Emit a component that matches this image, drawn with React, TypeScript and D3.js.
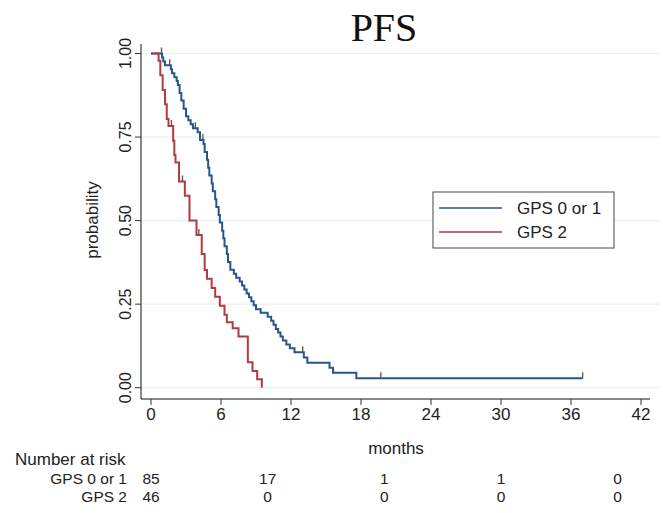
import { useEffect, useRef } from 'react'
import * as d3 from 'd3'

// ── data ──
const monthTicks = [0, 6, 12, 18, 24, 30, 36, 42]
const probTicks = [0, 0.25, 0.5, 0.75, 1]
const riskTimes = [0, 10, 20, 30, 40]
const risk01 = [85, 17, 1, 1, 0]
const risk2 = [46, 0, 0, 0, 0]

const gps01Time = [0, 0.95, 1.05, 1.2, 1.7, 1.8, 2.0, 2.2, 2.3, 2.45, 2.6, 2.8, 3.0, 3.2, 3.4, 3.6, 4.0, 4.2, 4.5, 4.6, 4.8, 4.9, 5.0, 5.2, 5.3, 5.5, 5.6, 5.8, 5.9, 6.1, 6.2, 6.3, 6.5, 6.6, 6.8, 7.1, 7.3, 7.6, 7.8, 8.0, 8.2, 8.4, 8.6, 8.8, 9.0, 9.4, 10.0, 10.3, 10.5, 10.7, 10.9, 11.1, 11.3, 11.6, 11.9, 12.3, 13.1, 13.4, 15.3, 15.6, 17.6, 37]
const gps01Surv = [1, 0.988, 0.976, 0.965, 0.953, 0.941, 0.929, 0.918, 0.906, 0.882, 0.859, 0.835, 0.812, 0.8, 0.788, 0.776, 0.764, 0.741, 0.729, 0.705, 0.682, 0.658, 0.635, 0.611, 0.588, 0.564, 0.541, 0.517, 0.494, 0.47, 0.447, 0.423, 0.4, 0.376, 0.353, 0.341, 0.329, 0.318, 0.306, 0.294, 0.282, 0.271, 0.259, 0.247, 0.235, 0.224, 0.212, 0.2, 0.188, 0.176, 0.165, 0.153, 0.141, 0.129, 0.118, 0.106, 0.09, 0.075, 0.06, 0.045, 0.028, 0.028]
const gps01Censor = [0.9, 1.6, 3.8, 4.45, 13.0, 19.7, 37]

const gps2Time = [0, 0.65, 0.8, 1.0, 1.2, 1.35, 1.5, 1.9, 2.0, 2.1, 2.4, 2.9, 3.3, 3.9, 4.35, 4.6, 4.8, 5.2, 5.5, 5.9, 6.3, 6.5, 7.0, 7.5, 8.3, 8.7, 9.1, 9.5]
const gps2Surv = [1, 0.978, 0.935, 0.891, 0.848, 0.804, 0.783, 0.739, 0.696, 0.674, 0.617, 0.574, 0.5, 0.457, 0.4, 0.352, 0.326, 0.298, 0.272, 0.245, 0.218, 0.196, 0.178, 0.153, 0.076, 0.05, 0.025, 0]
const gps2Censor = [1.75, 2.7, 4.1]

const BLUE = '#27568a'
const RED = '#b23a40'
const FONT = '"Liberation Sans", Arial, sans-serif'

export default function App() {
  const svgRef = useRef<SVGSVGElement>(null)

  useEffect(() => {
    const svg = d3.select(svgRef.current)
    svg.selectAll('*').remove()
    const W = 663, H = 513
    svg.attr('width', W).attr('height', H)

    const x = d3.scaleLinear().domain([0, 42]).range([151, 641])
    const y = d3.scaleLinear().domain([0, 1]).range([387.7, 53.5])
    const left = 141, bottom = 399, top = 44, right = 660

    svg.append('rect').attr('width', W).attr('height', H).attr('fill', '#fff')

    // title
    svg.append('text').attr('x', 384).attr('y', 41).attr('text-anchor', 'middle')
      .attr('font-family', '"Liberation Serif", "Times New Roman", serif').attr('font-size', 40).attr('fill', '#111').text('PFS')

    // grid
    svg.append('g').selectAll('line').data(probTicks).join('line')
      .attr('x1', left).attr('x2', right).attr('y1', d => y(d)).attr('y2', d => y(d))
      .attr('stroke', '#e6eff1').attr('stroke-width', 1.2)

    // axes
    svg.append('line').attr('x1', left).attr('x2', left).attr('y1', top).attr('y2', bottom).attr('stroke', '#111')
    svg.append('line').attr('x1', left).attr('x2', 650).attr('y1', bottom).attr('y2', bottom).attr('stroke', '#111')

    const yt = svg.append('g').selectAll('g').data(probTicks).join('g')
    yt.append('line').attr('x1', left - 6).attr('x2', left).attr('y1', d => y(d)).attr('y2', d => y(d)).attr('stroke', '#333')
    yt.append('text').attr('transform', d => `translate(131,${y(d)}) rotate(-90)`).attr('text-anchor', 'middle')
      .attr('font-family', FONT).attr('font-size', 16).attr('fill', '#222').text(d => d3.format('.2f')(d))

    const xt = svg.append('g').selectAll('g').data(monthTicks).join('g')
    xt.append('line').attr('x1', d => x(d)).attr('x2', d => x(d)).attr('y1', bottom).attr('y2', bottom + 6).attr('stroke', '#333')
    xt.append('text').attr('x', d => x(d)).attr('y', 420).attr('text-anchor', 'middle')
      .attr('font-family', FONT).attr('font-size', 17).attr('fill', '#222').text(d => d)

    svg.append('text').attr('transform', 'translate(98,220) rotate(-90)').attr('text-anchor', 'middle')
      .attr('font-family', FONT).attr('font-size', 17).attr('fill', '#222').text('probability')
    svg.append('text').attr('x', 396).attr('y', 454).attr('text-anchor', 'middle')
      .attr('font-family', FONT).attr('font-size', 17).attr('fill', '#222').text('months')

    // curves
    const line = d3.line<[number, number]>().x(d => x(d[0])).y(d => y(d[1])).curve(d3.curveStepAfter)
    const series = [
      { t: gps01Time, s: gps01Surv, c: gps01Censor, col: BLUE },
      { t: gps2Time, s: gps2Surv, c: gps2Censor, col: RED },
    ]
    for (const sr of series) {
      const pts = sr.t.map((t, i) => [t, sr.s[i]] as [number, number])
      svg.append('path').attr('d', line(pts)).attr('fill', 'none').attr('stroke', sr.col).attr('stroke-width', 2)
      const bis = d3.bisector((d: number) => d).right
      svg.append('g').selectAll('line').data(sr.c).join('line')
        .attr('x1', d => x(d)).attr('x2', d => x(d))
        .attr('y1', d => y(sr.s[Math.max(0, bis(sr.t, d) - 1)]))
        .attr('y2', d => y(sr.s[Math.max(0, bis(sr.t, d) - 1)]) - 6)
        .attr('stroke', '#555').attr('stroke-width', 1.3)
    }

    // legend
    const lg = svg.append('g')
    lg.append('rect').attr('x', 433).attr('y', 192).attr('width', 181).attr('height', 56)
      .attr('fill', '#fff').attr('stroke', '#444').attr('stroke-width', 1)
    const items = [{ label: 'GPS 0 or 1', col: BLUE }, { label: 'GPS 2', col: RED }]
    items.forEach((it, i) => {
      lg.append('line').attr('x1', 439).attr('x2', 502).attr('y1', 208 + i * 24).attr('y2', 208 + i * 24)
        .attr('stroke', it.col).attr('stroke-width', 1.6)
      lg.append('text').attr('x', 517).attr('y', 214 + i * 24).attr('font-family', FONT).attr('font-size', 17)
        .attr('fill', '#222').text(it.label)
    })

    // number at risk
    svg.append('text').attr('x', 15).attr('y', 465).attr('font-family', FONT).attr('font-size', 17).attr('fill', '#222').text('Number at risk')
    const rows = [{ label: 'GPS 0 or 1', vals: risk01 }, { label: 'GPS 2', vals: risk2 }]
    rows.forEach((r, i) => {
      const yy = 484 + i * 17.5
      svg.append('text').attr('x', 127).attr('y', yy).attr('text-anchor', 'end')
        .attr('font-family', FONT).attr('font-size', 15.5).attr('fill', '#222').text(r.label)
      svg.append('g').selectAll('text').data(riskTimes).join('text')
        .attr('x', d => x(d)).attr('y', yy).attr('text-anchor', 'middle')
        .attr('font-family', FONT).attr('font-size', 15.5).attr('fill', '#222').text((_, j) => r.vals[j])
    })
  }, [])

  return <svg ref={svgRef} style={{ position: 'absolute', left: 0, top: 0, display: 'block' }} />
}
